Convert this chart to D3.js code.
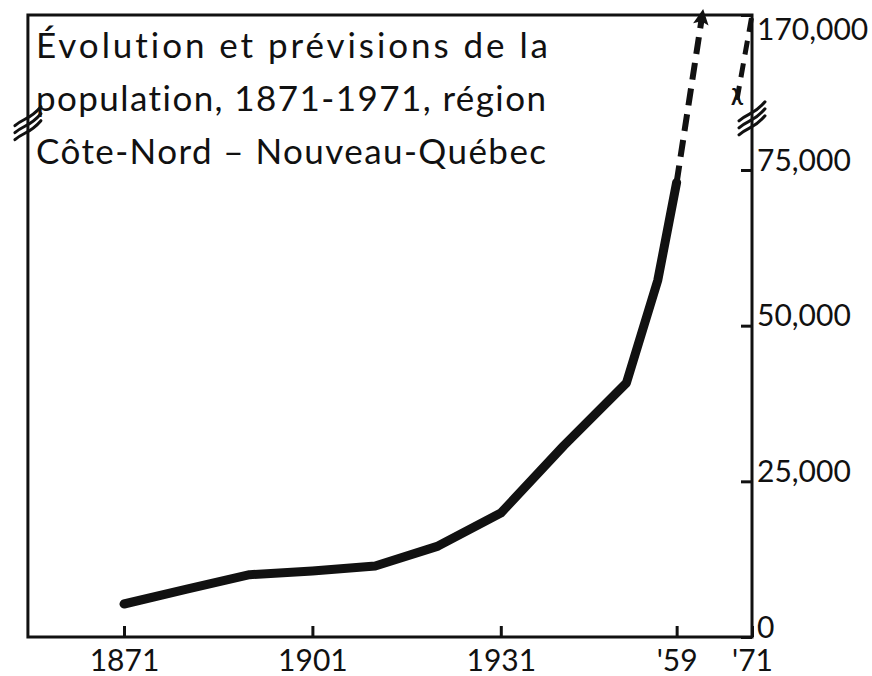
<!DOCTYPE html>
<html>
<head>
<meta charset="utf-8">
<script src="https://cdn.jsdelivr.net/npm/d3@7"></script>
<style>
  body { margin: 0; background: #fff; }
  svg { display: block; }
  text { font-family: "Lato", "DejaVu Sans", sans-serif; fill: #111; font-variant-ligatures: none; }
</style>
</head>
<body>
<div id="chart"></div>
<script>
// Population, region Côte-Nord – Nouveau-Québec
var years = [1871, 1881, 1891, 1901, 1911, 1921, 1931, 1941, 1951, 1956, 1959];
var population = [5300, 7700, 10000, 10600, 11400, 14600, 19900, 30700, 40800, 57300, 73000];

// forecasts (dashed)
var forecastYears = [1959, 1963];
var forecastValues = [73000, 168000];
var forecast71Years = [1968.6, 1971];
var forecast71Values = [118000, 170000];

var yearTicks = [1871, 1901, 1931, 1959, 1971];
var yearLabels = ["1871", "1901", "1931", "'59", "'71"];
var popTicks = [0, 25000, 50000, 75000, 170000];
var popLabels = ["0", "25,000", "50,000", "75,000", "170,000"];

var titleLines = ["Évolution et prévisions de la",
                  "population, 1871-1971, région",
                  "Côte-Nord – Nouveau-Québec"];

var W = 872, H = 676;

var svg = d3.select("#chart")
  .append("svg")
  .attr("width", W)
  .attr("height", H);

// Scales (y is broken between 75,000 and 170,000)
var x = d3.scaleLinear()
  .domain([1871, 1971])
  .range([124, 752]);

var y = d3.scaleLinear()
  .domain([0, 75000, 170000])
  .range([637, 170, 15]);

var frameLeft = x(1855.7), frameRight = x(1971), frameTop = y(170000), frameBottom = y(0);

// Frame
svg.append("rect")
  .attr("x", frameLeft)
  .attr("y", frameTop)
  .attr("width", frameRight - frameLeft)
  .attr("height", frameBottom - frameTop)
  .attr("fill", "none")
  .attr("stroke", "#111")
  .attr("stroke-width", 3);

// Axes
var xAxis = svg.append("g")
  .attr("transform", "translate(0," + frameBottom + ")")
  .call(d3.axisBottom(x)
    .tickValues(yearTicks)
    .tickFormat(function(d, i) { return yearLabels[i]; })
    .tickSizeInner(-11)
    .tickSizeOuter(0));
xAxis.select(".domain").remove();
xAxis.selectAll("line").attr("stroke", "#111").attr("stroke-width", 3);
xAxis.selectAll("text")
  .attr("y", 34)
  .attr("dy", 0)
  .style("font-size", "30px")
  .attr("fill", "#111");

var yAxis = svg.append("g")
  .attr("transform", "translate(" + frameRight + ",0)")
  .call(d3.axisRight(y)
    .tickValues(popTicks)
    .tickFormat(function(d, i) { return popLabels[i]; })
    .tickSizeInner(-11)
    .tickSizeOuter(0));
yAxis.select(".domain").remove();
yAxis.selectAll("line").attr("stroke", "#111").attr("stroke-width", 3);
yAxis.selectAll("text")
  .attr("x", 5)
  .attr("dy", function(d) { return d === 170000 ? "0.8em" : "0"; })
  .style("font-size", "30px")
  .attr("fill", "#111");

// Axis break marks
function breakMark(cx, cy) {
  var g = svg.append("g").attr("transform", "translate(" + cx + "," + cy + ")");
  [-7, 0, 7].forEach(function(o) {
    g.append("path")
      .attr("d", "M-13," + (o + 10) + " C-4," + (o + 2) + " 2," + (o + 4) + " 13," + (o - 9))
      .attr("fill", "none")
      .attr("stroke", "#111")
      .attr("stroke-width", 3)
      .attr("stroke-linecap", "round");
  });
}
breakMark(frameLeft, y(104000));
breakMark(frameRight, y(107000));

// Population line
var line = d3.line()
  .x(function(d) { return x(d[0]); })
  .y(function(d) { return y(d[1]); });

svg.append("path")
  .datum(d3.zip(years, population))
  .attr("d", line)
  .attr("fill", "none")
  .attr("stroke", "#111")
  .attr("stroke-width", 9)
  .attr("stroke-linecap", "round")
  .attr("stroke-linejoin", "round");

// Forecast dashed lines
svg.append("defs").append("marker")
  .attr("id", "arrow")
  .attr("viewBox", "0 0 10 10")
  .attr("refX", 4)
  .attr("refY", 5)
  .attr("markerWidth", 3)
  .attr("markerHeight", 2.6)
  .attr("markerUnits", "strokeWidth")
  .attr("orient", "auto")
  .append("path")
  .attr("d", "M0,0 L10,5 L0,10 L2,5 Z")
  .attr("fill", "#111");

svg.append("path")
  .datum(d3.zip(forecastYears, forecastValues))
  .attr("d", line)
  .attr("fill", "none")
  .attr("stroke", "#111")
  .attr("stroke-width", 6)
  .attr("stroke-dasharray", "17,9")
  .attr("marker-end", "url(#arrow)");

svg.append("path")
  .datum(d3.zip(forecast71Years, forecast71Values))
  .attr("d", line)
  .attr("fill", "none")
  .attr("stroke", "#111")
  .attr("stroke-width", 5)
  .attr("stroke-dasharray", "14,9");

// little tail mark at the start of the 1971 forecast
svg.append("text")
  .attr("x", x(forecast71Years[0]))
  .attr("y", y(forecast71Values[0]) + 5)
  .attr("text-anchor", "middle")
  .style("font-size", "22px")
  .style("font-weight", "bold")
  .text("λ");

// Title
svg.append("g")
  .selectAll("text")
  .data(titleLines)
  .enter()
  .append("text")
  .attr("x", 36)
  .attr("y", function(d, i) { return 58 + i * 53; })
  .attr("textLength", function(d, i) { return [512, 510, 510][i]; })
  .attr("lengthAdjust", "spacing")
  .style("font-size", "35px")
  .text(function(d) { return d; });
</script>
</body>
</html>
